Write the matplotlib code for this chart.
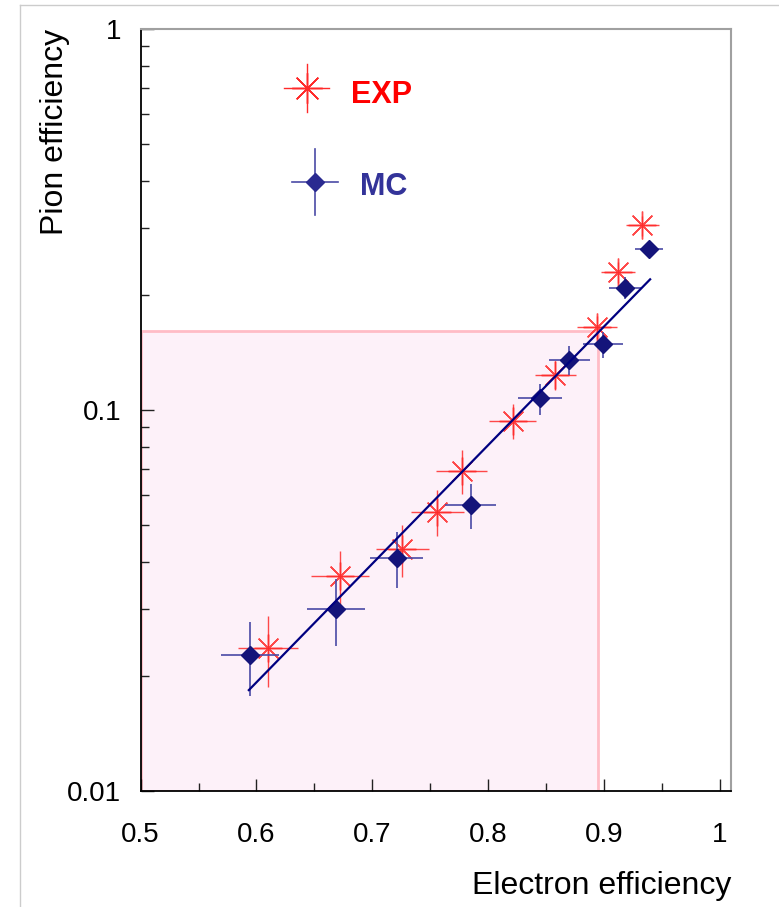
import numpy as np
import matplotlib
matplotlib.use("Agg")
import matplotlib.pyplot as plt
from matplotlib.patches import Rectangle
from matplotlib.lines import Line2D
from matplotlib.ticker import FixedLocator, LogLocator, NullFormatter

plt.rcParams['font.family'] = ['Liberation Sans', 'DejaVu Sans']

# experimental points
exp_x = [0.610, 0.672, 0.726, 0.756, 0.777, 0.821, 0.858, 0.894, 0.912, 0.933]
exp_y = [0.0238, 0.0367, 0.0432, 0.0541, 0.0693, 0.0937, 0.1238, 0.165, 0.230, 0.305]
exp_xerr = [0.026, 0.025, 0.023, 0.023, 0.022, 0.020, 0.018, 0.017, 0.015, 0.014]
exp_yerr = [0.005, 0.006, 0.0067, 0.0075, 0.009, 0.010, 0.011, 0.011, 0.015, 0.018]

# monte carlo points
mc_x = [0.594, 0.669, 0.721, 0.785, 0.845, 0.870, 0.899, 0.918, 0.939]
mc_y = [0.0228, 0.0300, 0.0409, 0.0563, 0.1073, 0.1352, 0.1487, 0.2094, 0.2647]
mc_xerr = [0.025, 0.025, 0.023, 0.022, 0.019, 0.018, 0.017, 0.014, 0.012]
mc_yerr = [0.005, 0.006, 0.0068, 0.0075, 0.010, 0.012, 0.012, 0.014, 0.010]

# fitted line end points
fit_x = [0.5934, 0.9397]
fit_y = [0.0184, 0.2203]

# shaded region
box_x = [0.5, 0.8948]
box_y = [0.01, 0.1612]

red = '#ff2a2a'
navy = '#14147a'
blue_err = '#4a4aa6'

fig = plt.figure(figsize=(7.79, 9.07), dpi=100)
ax = fig.add_axes([0.1805, 0.1279, 0.7579, 0.8401])

ax.set_yscale('log')
ax.set_xlim(0.5, 1.0095)
ax.set_ylim(0.01, 1)

ax.add_patch(Rectangle((box_x[0], box_y[0]), box_x[1] - box_x[0], box_y[1] - box_y[0],
                       facecolor='#fdf1f9', edgecolor='#ffbcc6', lw=2, zorder=0))

ax.errorbar(exp_x, exp_y, xerr=exp_xerr, yerr=exp_yerr, fmt='none',
            ecolor=red, elinewidth=1.0, capsize=0, zorder=2, alpha=0.85)
ax.plot(exp_x, exp_y, ls='none', marker=(8, 2, 0), ms=20, mec=red, mew=1.0, zorder=2, alpha=0.85)

ax.errorbar(mc_x, mc_y, xerr=mc_xerr, yerr=mc_yerr, fmt='none',
            ecolor=blue_err, elinewidth=1.2, capsize=0, zorder=3)
ax.plot(mc_x, mc_y, ls='none', marker='D', ms=9, mfc=navy, mec=navy, zorder=3)

ax.plot(fit_x, fit_y, color='#000080', lw=1.6, zorder=4)

# axis styling
for s in ['left', 'bottom']:
    ax.spines[s].set_color('black')
    ax.spines[s].set_linewidth(1.3)
for s in ['top', 'right']:
    ax.spines[s].set_color('#a0a0a0')
    ax.spines[s].set_linewidth(1.5)

xt = [0.5, 0.6, 0.7, 0.8, 0.9, 1.0]
ax.xaxis.set_major_locator(FixedLocator(xt))
ax.xaxis.set_minor_locator(FixedLocator([0.55, 0.65, 0.75, 0.85, 0.95]))
ax.set_xticklabels(['0.5', '0.6', '0.7', '0.8', '0.9', '1'])
ax.yaxis.set_major_locator(FixedLocator([0.01, 0.1, 1]))
ax.yaxis.set_minor_locator(LogLocator(base=10, subs=np.arange(2, 10)))
ax.yaxis.set_minor_formatter(NullFormatter())
ax.set_yticklabels(['0.01', '0.1', '1'])

ax.tick_params(axis='both', which='major', direction='in', length=9, width=1.0,
               labelsize=20, color='#222222')
ax.tick_params(axis='both', which='minor', direction='in', length=6, width=1.0, color='#222222')
ax.tick_params(axis='x', which='major', pad=22)
ax.tick_params(axis='y', which='major', pad=14)
ax.tick_params(top=False, right=False, which='both')

ax.set_xlabel('Electron efficiency', fontsize=23, ha='right', x=1.0, labelpad=17)
ax.set_ylabel('Pion efficiency', fontsize=23, ha='right', y=1.0, labelpad=-2)

# legend drawn by hand
ax.plot([0.281 - 0.0373, 0.281 + 0.0373], [0.9226, 0.9226], color=red, lw=1.0, transform=ax.transAxes)
ax.plot([0.281, 0.281], [0.9226 - 0.0315, 0.9226 + 0.0315], color=red, lw=1.0, transform=ax.transAxes)
ax.plot([0.281], [0.9226], marker=(8, 2, 0), ms=22, mec=red, mew=1.0, transform=ax.transAxes)
ax.text(0.357, 0.913, 'EXP', color='#ff0000', fontsize=22, fontweight='bold',
        va='center', ha='left', transform=ax.transAxes)

ax.plot([0.295 - 0.039, 0.295 + 0.039], [0.7996, 0.7996], color=blue_err, lw=1.2, transform=ax.transAxes)
ax.plot([0.295, 0.295], [0.7996 - 0.0433, 0.7996 + 0.0433], color=blue_err, lw=1.2, transform=ax.transAxes)
ax.plot([0.295], [0.7996], marker='D', ms=9, mfc='#2a2a90', mec='#2a2a90', transform=ax.transAxes)
ax.text(0.372, 0.793, 'MC', color='#333399', fontsize=22, fontweight='bold',
        va='center', ha='left', transform=ax.transAxes)

# thin page border
fig.add_artist(Line2D([20 / 779, 1.0], [1 - 5 / 907, 1 - 5 / 907], color='#cccccc', lw=1.0))
fig.add_artist(Line2D([20 / 779, 20 / 779], [0.0, 1 - 5 / 907], color='#cccccc', lw=1.0))

fig.savefig('out.png', dpi=100)
